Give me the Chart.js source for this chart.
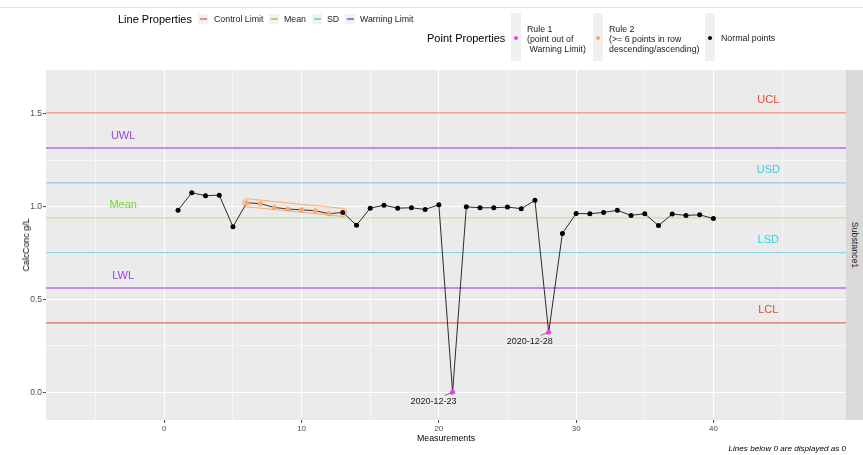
<!DOCTYPE html>
<html lang="en">
<head>
<meta charset="UTF-8">
<title>Control chart</title>
<script src="https://cdn.jsdelivr.net/npm/chart.js"></script>
<style>
  body { margin: 0; background: #fff; font-family: "Liberation Sans", Arial, sans-serif; }
  #wrap { position: relative; width: 863px; height: 455px; overflow: hidden; }
  #wrap canvas { position: absolute; left: 0; top: 0; }
  .abs { position: absolute; white-space: nowrap; color: #1a1a1a; }
  .topline { position: absolute; left: 0; top: 7px; width: 863px; height: 1px; background: #e3e3e3; }
  .ltitle { font-size: 11px; line-height: 12px; color: #000; }
  .item { font-size: 8.8px; line-height: 10px; }
  .lkey { position: absolute; width: 10px; height: 10px; background: #f2f2f2; }
  .lkey b { position: absolute; display: block; left: 2px; top: 4px; width: 7px; height: 2px; }
  .pkey { position: absolute; width: 10px; height: 48px; top: 13px; background: #f0f0f0; }
  .pkey b { position: absolute; display: block; left: 3px; top: 23px; width: 4px; height: 4px; border-radius: 50%; }
  .strip { position: absolute; left: 846px; top: 70px; width: 17px; height: 350px; background: #d9d9d9; }
  .strip span { position: absolute; left: 50%; top: 50%; transform: translate(-50%, -50%) rotate(90deg); font-size: 8.8px; color: #1a1a1a; white-space: nowrap; }
</style>
</head>
<body>
<div id="wrap">
  <canvas id="chart" width="863" height="455"></canvas>
  <div class="topline"></div>

  <!-- line legend -->
  <div class="abs ltitle" style="left:118px; top:13px;">Line Properties</div>
  <div class="lkey" style="left:198px; top:14px;"><b style="background:#f08a86"></b></div>
  <div class="abs item" style="left:214px; top:14px;">Control Limit</div>
  <div class="lkey" style="left:269px; top:14px;"><b style="background:#a8dc7a"></b></div>
  <div class="abs item" style="left:284px; top:14px;">Mean</div>
  <div class="lkey" style="left:312px; top:14px;"><b style="background:#7fd8e2"></b></div>
  <div class="abs item" style="left:327px; top:14px;">SD</div>
  <div class="lkey" style="left:345px; top:14px;"><b style="background:#b56bef"></b></div>
  <div class="abs item" style="left:360px; top:14px;">Warning Limit</div>

  <!-- point legend -->
  <div class="abs ltitle" style="left:427px; top:32px;">Point Properties</div>
  <div class="pkey" style="left:511px;"><b style="background:#f53df5"></b></div>
  <div class="abs item" style="left:527px; top:24px;">Rule 1<br>(point out of<br>&nbsp;Warning Limit)</div>
  <div class="pkey" style="left:593px;"><b style="background:#fda66b"></b></div>
  <div class="abs item" style="left:609px; top:24px;">Rule 2<br>(&gt;= 6 points in row<br>descending/ascending)</div>
  <div class="pkey" style="left:705px;"><b style="background:#000"></b></div>
  <div class="abs item" style="left:721px; top:33px;">Normal points</div>

  <!-- facet strip and axis titles -->
  <div class="strip"><span>Substance1</span></div>
  <div class="abs" style="left:446px; top:438px; transform:translate(-50%,-50%); font-size:8.8px; color:#000;">Measurements</div>
  <div class="abs" style="left:26px; top:245px; transform:translate(-50%,-50%) rotate(-90deg); font-size:8.8px; color:#000;">CalcConc g/L</div>
  <div class="abs" style="right:17px; top:444px; font-size:8.1px; font-style:italic; color:#000;">Lines below 0 are displayed as 0</div>
</div>

<script>
const measurements = [1, 2, 3, 4, 5, 6, 7, 8, 9, 10, 11, 12, 13, 14, 15, 16, 17, 18, 19, 20,
                      21, 22, 23, 24, 25, 26, 27, 28, 29, 30, 31, 32, 33, 34, 35, 36, 37, 38, 39, 40];
const calcConc = [0.981, 1.075, 1.059, 1.062, 0.892, 1.021, 1.016, 0.996, 0.987, 0.983,
                  0.978, 0.962, 0.969, 0.900, 0.992, 1.008, 0.992, 0.994, 0.985, 1.010,
                  0.000, 0.999, 0.994, 0.994, 0.998, 0.989, 1.034, 0.323, 0.856, 0.963,
                  0.962, 0.969, 0.980, 0.953, 0.962, 0.898, 0.960, 0.953, 0.956, 0.936];

// rule violations
const rule1Points = [21, 28];
const rule1Dates = ['2020-12-23', '2020-12-28'];
const rule2Points = [6, 7, 8, 9, 10, 11, 12];
const rule2Hull = [6, 13];

// limit lines
const limitNames = ['UCL', 'UWL', 'USD', 'Mean', 'LSD', 'LWL', 'LCL'];
const limitValues = [1.505, 1.316, 1.128, 0.940, 0.752, 0.562, 0.374];
const limitLabelX = [44, -3, 44, -3, 44, -3, 44];

// axes
const xMin = -8.62, xMax = 49.66;
const yMin = -0.149, yMax = 1.736;
const xTicks = [-5, 0, 5, 10, 15, 20, 25, 30, 35, 40, 45];
const yTicks = [0, 0.25, 0.5, 0.75, 1, 1.25, 1.5];

const FONT = '"Liberation Sans", Arial, sans-serif';

// line / text colours by limit type
const lineColor = {
    UCL: '#ee8a86', LCL: '#e06a66',
    UWL: '#b56bef', LWL: '#b56bef',
    USD: '#86d6df', LSD: '#86d6df',
    Mean: '#bfe39c'
};
const textColor = {
    UCL: '#e8473a', LCL: '#e8473a',
    UWL: '#9d42e3', LWL: '#9d42e3',
    USD: '#2dd2e4', LSD: '#2dd2e4',
    Mean: '#74d92c'
};

const points = measurements.map((m, i) => ({ x: m, y: calcConc[i] }));
const pointColors = measurements.map(m =>
    rule1Points.includes(m) ? '#f53df5' : rule2Points.includes(m) ? '#fda66b' : '#000');

const limitDatasets = limitNames.map((name, i) => ({
    type: 'line',
    data: [{ x: xMin, y: limitValues[i] }, { x: xMax, y: limitValues[i] }],
    borderColor: lineColor[name],
    borderWidth: 1.3,
    pointRadius: 0,
    order: 2
}));

// panel background
const panelBg = {
    id: 'panelBg',
    beforeDraw(chart) {
        const a = chart.chartArea, c = chart.ctx;
        c.save();
        c.fillStyle = '#ebebeb';
        c.fillRect(a.left, a.top, a.right - a.left, a.bottom - a.top);
        c.restore();
    }
};

// rule 2 hull, limit labels and date labels
const annotations = {
    id: 'annotations',
    afterDatasetsDraw(chart) {
        const c = chart.ctx, xs = chart.scales.x, ys = chart.scales.y;
        c.save();

        // hull around the descending run
        const i1 = measurements.indexOf(rule2Hull[0]), i2 = measurements.indexOf(rule2Hull[1]);
        const x1 = xs.getPixelForValue(measurements[i1]), y1 = ys.getPixelForValue(calcConc[i1]);
        const x2 = xs.getPixelForValue(measurements[i2]), y2 = ys.getPixelForValue(calcConc[i2]);
        const ang = Math.atan2(y2 - y1, x2 - x1), r = 4;
        c.beginPath();
        c.arc(x1, y1, r, ang + Math.PI / 2, ang + 3 * Math.PI / 2);
        c.arc(x2, y2, r, ang - Math.PI / 2, ang + Math.PI / 2);
        c.closePath();
        c.fillStyle = 'rgba(253,166,107,0.08)';
        c.fill();
        c.strokeStyle = 'rgba(250,150,90,0.75)';
        c.lineWidth = 1;
        c.stroke();

        // limit labels
        c.font = '11px ' + FONT;
        c.textAlign = 'center';
        c.textBaseline = 'middle';
        limitNames.forEach((name, i) => {
            c.fillStyle = textColor[name];
            c.fillText(name, xs.getPixelForValue(limitLabelX[i]), ys.getPixelForValue(limitValues[i]) - 12.5);
        });

        // date labels of rule 1 points
        c.font = '9px ' + FONT;
        rule1Points.forEach((m, k) => {
            const idx = measurements.indexOf(m);
            const px = xs.getPixelForValue(m), py = ys.getPixelForValue(calcConc[idx]);
            c.strokeStyle = '#555';
            c.lineWidth = 0.8;
            c.beginPath();
            c.moveTo(px - 1, py + 0.5);
            c.lineTo(px - 8, py + 3);
            c.stroke();
            c.fillStyle = '#1a1a1a';
            c.fillText(rule1Dates[k], px - 19, py + 9);
        });
        c.restore();
    }
};

new Chart(document.getElementById('chart'), {
    type: 'scatter',
    data: {
        datasets: [{
            type: 'line',
            data: points,
            borderColor: '#2b2b2b',
            borderWidth: 1,
            pointRadius: 2.5,
            pointBorderWidth: 0,
            pointBackgroundColor: pointColors,
            order: 0
        }, ...limitDatasets]
    },
    options: {
        responsive: false,
        animation: false,
        layout: { padding: { top: 70, right: 17, bottom: 0, left: 0 } },
        plugins: { legend: { display: false }, tooltip: { enabled: false } },
        scales: {
            x: {
                type: 'linear',
                min: xMin,
                max: xMax,
                afterBuildTicks: s => { s.ticks = xTicks.map(v => ({ value: v })); },
                afterFit: s => { s.height = 35; },
                border: { display: false },
                grid: {
                    color: '#fff',
                    lineWidth: c => (c.tick && c.tick.value % 10 === 0 ? 1.1 : 0.55),
                    tickLength: 3,
                    tickColor: c => (c.tick && c.tick.value % 10 === 0 ? '#555' : 'rgba(0,0,0,0)')
                },
                ticks: {
                    autoSkip: false,
                    maxRotation: 0,
                    padding: 1,
                    color: '#4d4d4d',
                    font: { size: 8, family: FONT },
                    callback: v => (v % 10 === 0 ? String(v) : '')
                }
            },
            y: {
                min: yMin,
                max: yMax,
                afterBuildTicks: s => { s.ticks = yTicks.map(v => ({ value: v })); },
                afterFit: s => { s.width = 46; },
                border: { display: false },
                grid: {
                    color: '#fff',
                    lineWidth: c => (c.tick && c.tick.value % 0.5 === 0 ? 1.1 : 0.55),
                    tickLength: 3,
                    tickColor: c => (c.tick && c.tick.value % 0.5 === 0 ? '#555' : 'rgba(0,0,0,0)')
                },
                ticks: {
                    autoSkip: false,
                    padding: 1,
                    color: '#4d4d4d',
                    font: { size: 8.5, family: FONT },
                    callback: v => (v % 0.5 === 0 ? v.toFixed(1) : '')
                }
            }
        }
    },
    plugins: [panelBg, annotations]
});
</script>
</body>
</html>
